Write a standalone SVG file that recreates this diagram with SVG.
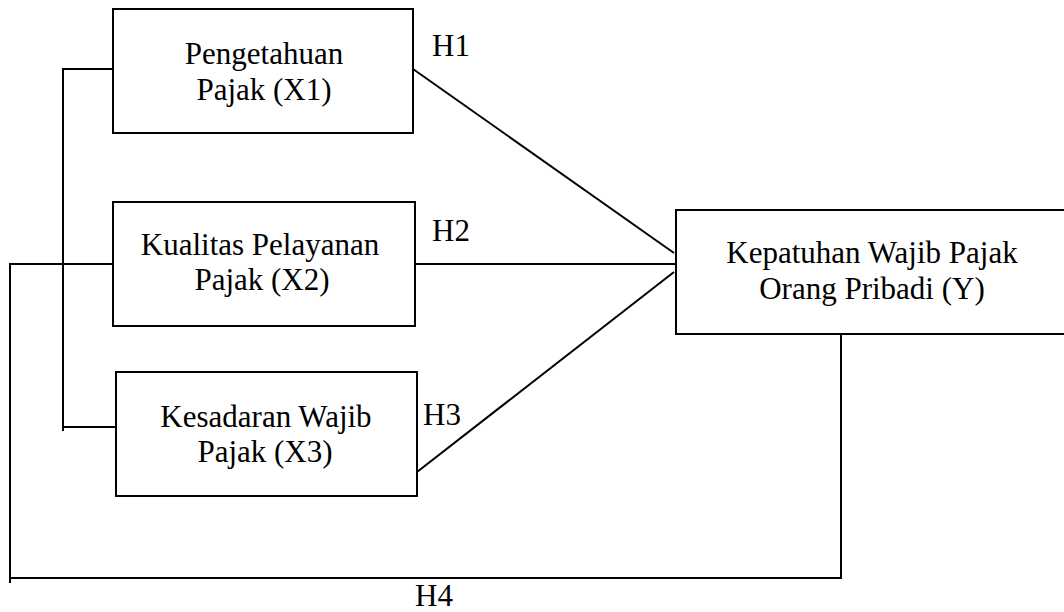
<svg xmlns="http://www.w3.org/2000/svg" width="1064" height="612" viewBox="0 0 1064 612">
<style>
.box{fill:#fff;stroke:#000;stroke-width:2}
.ln{stroke:#000;stroke-width:2;fill:none}
text{font-family:"Liberation Serif","Times New Roman",serif;font-size:31px;fill:#000}
.c{text-anchor:middle}
</style>
<rect width="1064" height="612" fill="#fff"/>
<g id="connectors">
<path class="ln" d="M113 69H63V431M63 427H116"/>
<path class="ln" d="M113 264H10V583M10 578H841V334"/>
<line class="ln" x1="413" y1="69" x2="674" y2="253"/>
<line class="ln" x1="415" y1="264" x2="676" y2="264"/>
<line class="ln" x1="417" y1="472" x2="674" y2="272"/>
<text x="432" y="56">H1</text>
<text x="432" y="241">H2</text>
<text x="423" y="425">H3</text>
<text x="415" y="606">H4</text>
</g>
<g id="x1">
<rect class="box" x="113" y="9" width="300" height="124"/>
<text class="c" x="264" y="64">Pengetahuan</text>
<text class="c" x="264" y="100">Pajak (X1)</text>
</g>
<g id="x2">
<rect class="box" x="113" y="202" width="302" height="124"/>
<text class="c" x="260" y="255">Kualitas Pelayanan</text>
<text class="c" x="262" y="290">Pajak (X2)</text>
</g>
<g id="x3">
<rect class="box" x="116" y="372" width="301" height="124"/>
<text class="c" x="266" y="427">Kesadaran Wajib</text>
<text class="c" x="265" y="462">Pajak (X3)</text>
</g>
<g id="y">
<rect class="box" x="676" y="210" width="392" height="124"/>
<text class="c" x="872" y="263">Kepatuhan Wajib Pajak</text>
<text class="c" x="872" y="299">Orang Pribadi (Y)</text>
</g>
</svg>
